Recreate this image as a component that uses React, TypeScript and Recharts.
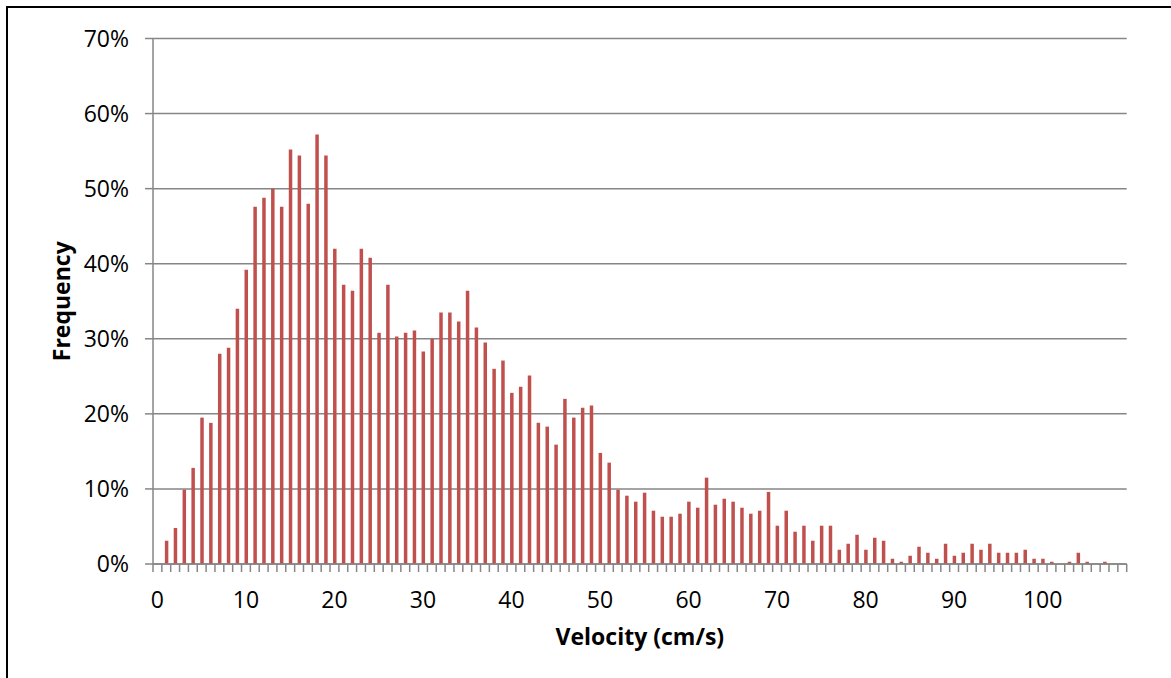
import React from 'react';
import { BarChart, Bar, XAxis, YAxis, CartesianGrid } from 'recharts';

// Frequency (%) for each velocity bin 0..109 cm/s
const frequencies: number[] = [
  0, 3.1, 4.8, 9.9, 12.8, 19.5, 18.8, 28.0, 28.8, 34.0,
  39.2, 47.6, 48.8, 50.0, 47.6, 55.2, 54.4, 48.0, 57.2, 54.4,
  42.0, 37.2, 36.4, 42.0, 40.8, 30.8, 37.2, 30.3, 30.8, 31.1,
  28.3, 30.0, 33.5, 33.5, 32.3, 36.4, 31.5, 29.5, 26.0, 27.1,
  22.8, 23.6, 25.1, 18.8, 18.3, 15.9, 22.0, 19.5, 20.8, 21.1,
  14.8, 13.5, 9.9, 9.1, 8.3, 9.5, 7.1, 6.3, 6.3, 6.7,
  8.3, 7.5, 11.5, 7.9, 8.7, 8.3, 7.5, 6.7, 7.1, 9.6,
  5.1, 7.1, 4.3, 5.1, 3.1, 5.1, 5.1, 1.9, 2.7, 3.9,
  1.9, 3.5, 3.1, 0.7, 0.3, 1.1, 2.3, 1.5, 0.7, 2.7,
  1.1, 1.5, 2.7, 1.9, 2.7, 1.5, 1.5, 1.5, 1.9, 0.7,
  0.7, 0.3, 0, 0.3, 1.5, 0.3, 0, 0.3, 0, 0,
];
const velocities: number[] = frequencies.map((_, i) => i);
const xLabelStep = 10;
const yTicks: number[] = [0, 10, 20, 30, 40, 50, 60, 70];

const data = velocities.map((v, i) => ({ v, f: frequencies[i] }));

const AXIS = '#868686';
const FONT = "'Open Sans', sans-serif";

// Excel-style category tick: marks between categories, label every 10th
function CategoryTick(props: any) {
  const { x, y, payload, width, index } = props;
  const count = velocities.length;
  const half =
    payload && typeof payload.offset === 'number' && payload.offset > 0
      ? payload.offset
      : width / count / 2;
  const value = payload.value as number;
  const isLast = index === count - 1 || value === velocities[count - 1];
  return (
    <g>
      <line x1={x - half} x2={x - half} y1={y} y2={y + 8} stroke={AXIS} strokeWidth={1.5} />
      {isLast && (
        <line x1={x + half} x2={x + half} y1={y} y2={y + 8} stroke={AXIS} strokeWidth={1.5} />
      )}
      {value % xLabelStep === 0 && (
        <text
          x={x}
          y={y + 28}
          dy="0.71em"
          textAnchor="middle"
          fill="#000"
          fontSize={23}
          fontFamily={FONT}
        >
          {value}
        </text>
      )}
    </g>
  );
}

export default function App() {
  return (
    <div
      style={{
        position: 'absolute',
        left: 6,
        top: 6,
        width: 1165,
        height: 672,
        boxSizing: 'border-box',
        borderTop: '2px solid #000',
        borderLeft: '2px solid #000',
        background: '#fff',
      }}
    >
      <BarChart
        width={1163}
        height={670}
        data={data}
        margin={{ top: 30.5, right: 44.3, bottom: 34, left: -37 }}
        style={{ fontFamily: FONT }}
      >
        <CartesianGrid vertical={false} stroke={AXIS} strokeWidth={1.5} />
        <XAxis
          dataKey="v"
          type="category"
          interval={0}
          height={80}
          axisLine={{ stroke: AXIS, strokeWidth: 1.5 }}
          tickLine={false}
          tickSize={0}
          tickMargin={0}
          tick={<CategoryTick />}
          label={{
            value: 'Velocity (cm/s)',
            position: 'bottom',
            offset: -15,
            fill: '#000',
            fontSize: 23,
            fontWeight: 700,
            fontFamily: FONT,
          }}
        />
        <YAxis
          domain={[0, 70]}
          ticks={yTicks}
          interval={0}
          width={182}
          tickFormatter={(v: number) => `${v}%`}
          tickSize={8}
          tickMargin={16}
          axisLine={{ stroke: AXIS, strokeWidth: 1.5 }}
          tickLine={{ stroke: AXIS, strokeWidth: 1.5 }}
          tick={{ fill: '#000', fontSize: 23, fontFamily: FONT }}
          label={{
            value: 'Frequency',
            angle: -90,
            position: 'center',
            fill: '#000',
            fontSize: 23,
            fontWeight: 700,
            fontFamily: FONT,
          }}
        />
        <Bar dataKey="f" fill="#C0504D" barSize={3.5} isAnimationActive={false} />
      </BarChart>
    </div>
  );
}
